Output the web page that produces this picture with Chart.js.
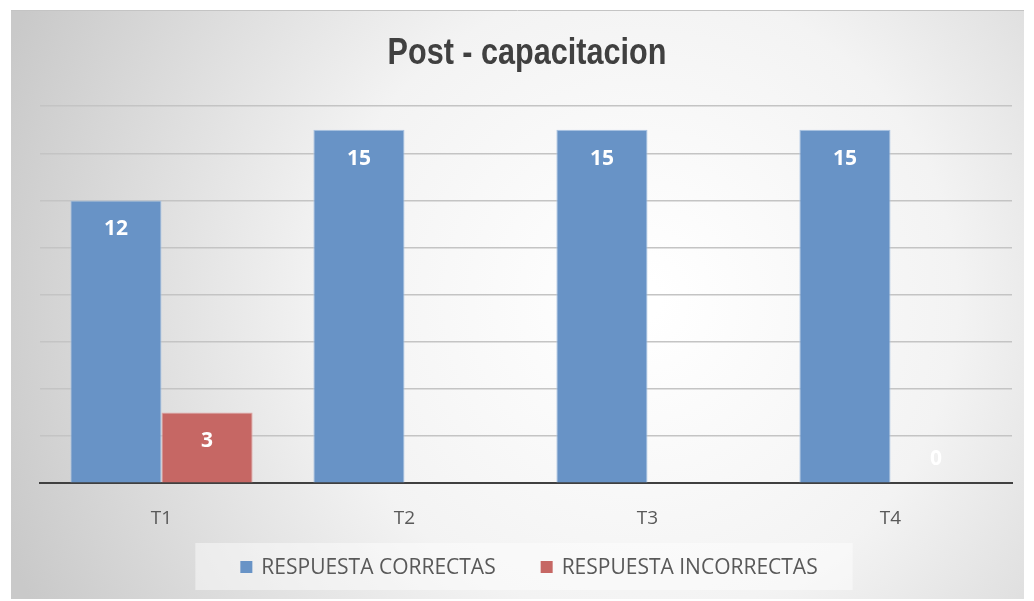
<!DOCTYPE html>
<html>
<head>
<meta charset="utf-8">
<script src="https://cdn.jsdelivr.net/npm/chart.js@4"></script>
<style>
	html, body { margin: 0; padding: 0; background: #ffffff; }
	#wrap { width: 1034px; height: 601px; }
</style>
</head>
<body>
<div id="wrap"><canvas id="postChart"></canvas></div>
<script>
// categorias y valores
const categorias = ['T1', 'T2', 'T3', 'T4'];
const correctas = [12, 15, 15, 15];
const incorrectas = [3, null, null, 0];
const nombresSeries = ['RESPUESTA CORRECTAS', 'RESPUESTA INCORRECTAS'];
const titulo = 'Post - capacitacion';

// fondo con degradado (marco gris claro)
const fondoPlugin = {
	id: 'fondo',
	beforeDraw(chart) {
		const ctx = chart.ctx;
		ctx.save();
		const g = ctx.createRadialGradient(640, 300, 20, 640, 300, 680);
		g.addColorStop(0, '#ffffff');
		g.addColorStop(0.45, '#f3f3f3');
		g.addColorStop(1, '#c9c9c9');
		ctx.fillStyle = g;
		ctx.fillRect(11, 11, 1013, 588);
		ctx.strokeStyle = '#c4c4c4';
		ctx.lineWidth = 1;
		ctx.beginPath();
		ctx.moveTo(11, 10.5);
		ctx.lineTo(1024, 10.5);
		ctx.stroke();
		ctx.restore();
	},
	afterDraw(chart) {
		const ctx = chart.ctx;
		// titulo condensado (no hay Arial Narrow)
		const t = chart.titleBlock;
		ctx.save();
		ctx.font = 'bold 36px "Liberation Sans"';
		ctx.fillStyle = '#404040';
		ctx.textAlign = 'center';
		ctx.textBaseline = 'middle';
		ctx.translate(527, t.top + t.options.padding.top + 24);
		ctx.scale(0.85, 1);
		ctx.fillText(titulo, 0, 0);
		ctx.restore();

		// leyenda propia con caja
		ctx.save();
		ctx.font = '21px "Open Sans"';
		ctx.textBaseline = 'middle';
		const ds = chart.data.datasets;
		const anchos = ds.map(d => ctx.measureText(d.label).width);
		const total = ds.length * 21 + anchos.reduce((a, b) => a + b, 0) + 45 * (ds.length - 1);
		let x = 529 - total / 2;
		const yc = 567;
		ctx.fillStyle = 'rgba(255,255,255,0.45)';
		ctx.fillRect(x - 45, yc - 24, total + 80, 47);
		ds.forEach((d, i) => {
			ctx.fillStyle = d.backgroundColor;
			ctx.fillRect(x, yc - 6, 12, 12);
			ctx.fillStyle = '#595959';
			ctx.fillText(d.label, x + 21, yc + 1);
			x += 21 + anchos[i] + 45;
		});
		ctx.restore();
	}
};

// etiquetas de datos dentro de las barras
const etiquetasPlugin = {
	id: 'etiquetas',
	afterDatasetsDraw(chart) {
		const ctx = chart.ctx;
		const base = chart.scales.y.getPixelForValue(0);
		ctx.save();
		ctx.font = 'bold 21px "Open Sans"';
		ctx.fillStyle = '#ffffff';
		ctx.textAlign = 'center';
		ctx.textBaseline = 'middle';
		chart.data.datasets.forEach((ds, i) => {
			chart.getDatasetMeta(i).data.forEach((bar, j) => {
				const v = ds.data[j];
				if (v === null || v === undefined) return;
				const y = Math.min(bar.y + 29, base - 24);
				ctx.fillText(String(v), bar.x, y);
			});
		});
		ctx.restore();
	}
};

new Chart(document.getElementById('postChart'), {
	type: 'bar',
	data: {
		labels: categorias,
		datasets: [
			{
				label: nombresSeries[0],
				data: correctas,
				backgroundColor: '#6893c6',
				borderColor: '#a9c3e2',
				borderWidth: 1,
				borderSkipped: 'bottom'
			},
			{
				label: nombresSeries[1],
				data: incorrectas,
				backgroundColor: '#c66764',
				borderColor: '#e2a8a6',
				borderWidth: 1,
				borderSkipped: 'bottom'
			}
		]
	},
	options: {
		responsive: true,
		maintainAspectRatio: false,
		animation: false,
		layout: {
			padding: { left: 40, right: 22, top: 10, bottom: 55 }
		},
		categoryPercentage: 0.75,
		barPercentage: 1.0,
		plugins: {
			title: {
				display: true,
				text: titulo,
				color: 'rgba(0,0,0,0)',
				font: { family: '"Liberation Sans"', size: 36, weight: 'bold' },
				padding: { top: 20, bottom: 33 }
			},
			legend: { display: false },
			tooltip: { enabled: false }
		},
		scales: {
			x: {
				grid: { display: false },
				border: { display: true, color: '#404040', width: 2 },
				ticks: {
					color: '#595959',
					padding: 16,
					font: { family: '"Open Sans"', size: 19 }
				}
			},
			y: {
				min: 0,
				max: 16,
				ticks: { display: false, stepSize: 2 },
				border: { display: false },
				grid: { color: '#c4c4c4', lineWidth: 1.5, drawTicks: false }
			}
		}
	},
	plugins: [fondoPlugin, etiquetasPlugin]
});
</script>
</body>
</html>
